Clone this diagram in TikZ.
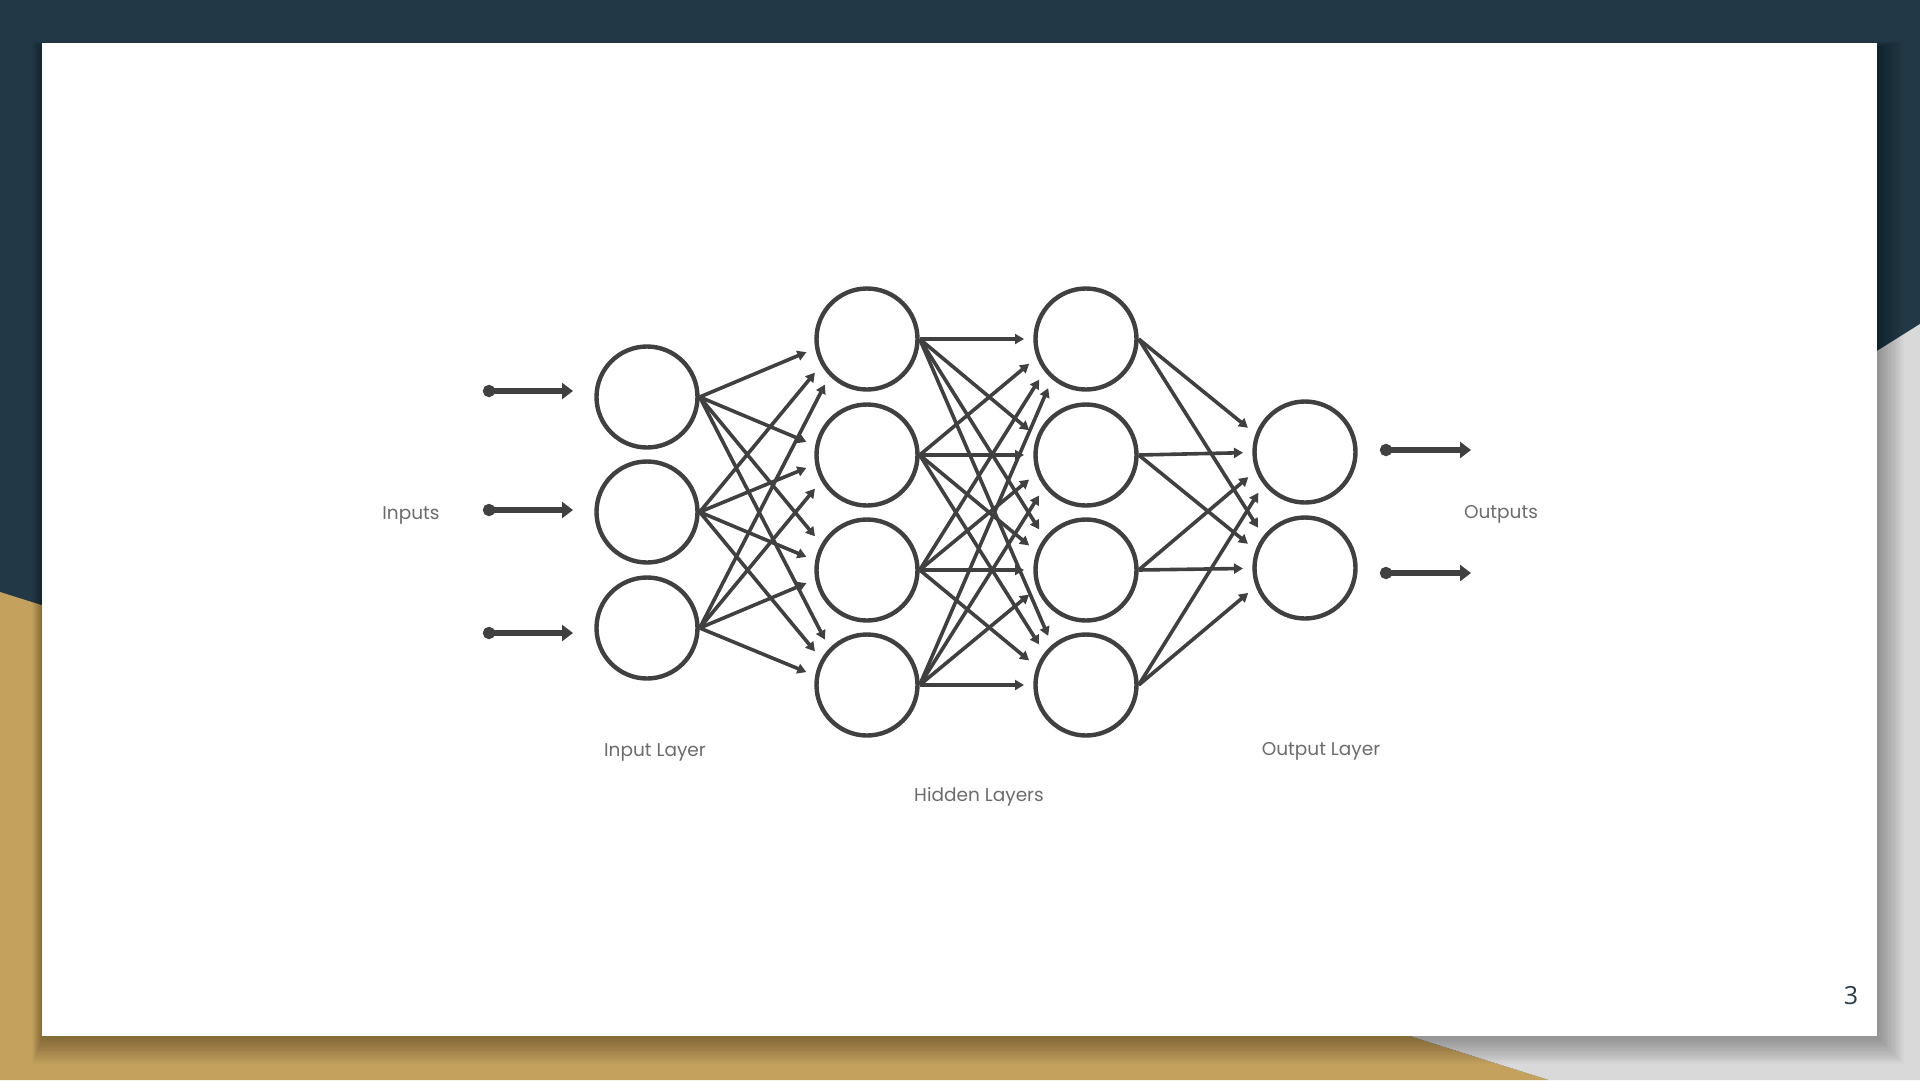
\documentclass[tikz,border=0pt]{standalone}
\usepackage{fontspec}
\setmainfont{Poppins}
\newfontfamily\numfont{Open Sans}
\usetikzlibrary{arrows.meta,calc}
\definecolor{navy}{HTML}{233847}
\definecolor{gold}{HTML}{C4A25E}
\definecolor{lgray}{HTML}{D9D9D9}
\definecolor{ink}{HTML}{404040}
\definecolor{txt}{HTML}{6C6C6C}
\definecolor{pnum}{HTML}{2A3B47}
\begin{document}
\begin{tikzpicture}[x=1pt,y=-1pt,
  neuron/.style={circle,draw=ink,line width=4.4pt,minimum size=101pt,inner sep=0pt},
  edge/.style={draw=ink,line width=3.6pt,-{Triangle[length=9pt,width=10pt]}},
  ioarrow/.style={draw=ink,line width=6pt,{Circle[length=12pt]}-{Triangle[length=11pt,width=16pt]}},
  lbl/.style={text=txt,inner sep=0pt,font=\fontsize{18.5}{22}\selectfont}]
% background
\useasboundingbox (0,0) rectangle (1920,1080);
\fill[navy] (0,0) rectangle (1920,1080);
\fill[gold] (0,592) -- (1549,1080) -- (0,1080) -- cycle;
\fill[lgray] (1920,324) -- (995,905) -- (1549,1080) -- (1920,1080) -- cycle;
% card shadow
\foreach \i in {1,...,20}{
  \fill[black,opacity=0.016] ({42-0.5*\i},{43-0.3*\i+4}) rectangle ({1877+1.3*\i+1},{1036+1.3*\i+2});
}
\fill[white] (42,43) rectangle (1877,1036);
% neurons
\foreach \n/\y in {1/397,2/512,3/628}
  \node[neuron] (i\n) at (647,\y) {};
\foreach \n/\y in {1/339,2/455,3/570,4/685}{
  \node[neuron] (a\n) at (867,\y) {};
  \node[neuron] (b\n) at (1086,\y) {};
}
\foreach \n/\y in {1/452,2/568}
  \node[neuron] (o\n) at (1305,\y) {};
% connections
\foreach \s in {1,2,3}
  \foreach \t in {1,2,3,4}
    \draw[edge] (i\s.east) -- ($(a\t.center)!62pt!($(i\s.east)+(-100,0)$)$);
\foreach \s in {1,2,3,4}
  \foreach \t in {1,2,3,4}
    \draw[edge] (a\s.east) -- ($(b\t.center)!62pt!($(a\s.east)+(-100,0)$)$);
\foreach \s in {1,2,3,4}
  \foreach \t in {1,2}
    \draw[edge] (b\s.east) -- ($(o\t.center)!62pt!($(b\s.east)+(-100,0)$)$);
% input / output arrows
\foreach \n/\y in {1/391,2/510,3/633}{
  \coordinate (ins\n) at (483,\y);
  \coordinate (ine\n) at (573,\y);
  \draw[ioarrow] (ins\n) -- (ine\n);
}
\foreach \n/\y in {1/450,2/573}{
  \coordinate (outs\n) at (1380,\y);
  \coordinate (oute\n) at (1471,\y);
  \draw[ioarrow] (outs\n) -- (oute\n);
}
% labels
\node[lbl] (linputs) at (411,515) {Inputs};
\node[lbl] (loutputs) at (1501,514) {Outputs};
\node[lbl] (linlayer) at (655,752) {Input Layer};
\node[lbl] (lhidden) at (979,797) {Hidden Layers};
\node[lbl] (loutlayer) at (1321,751) {Output Layer};
\node[text=pnum,inner sep=0pt,font=\numfont\fontsize{25}{30}\selectfont] (pagenum) at (1851,996) {3};
\end{tikzpicture}
\end{document}
